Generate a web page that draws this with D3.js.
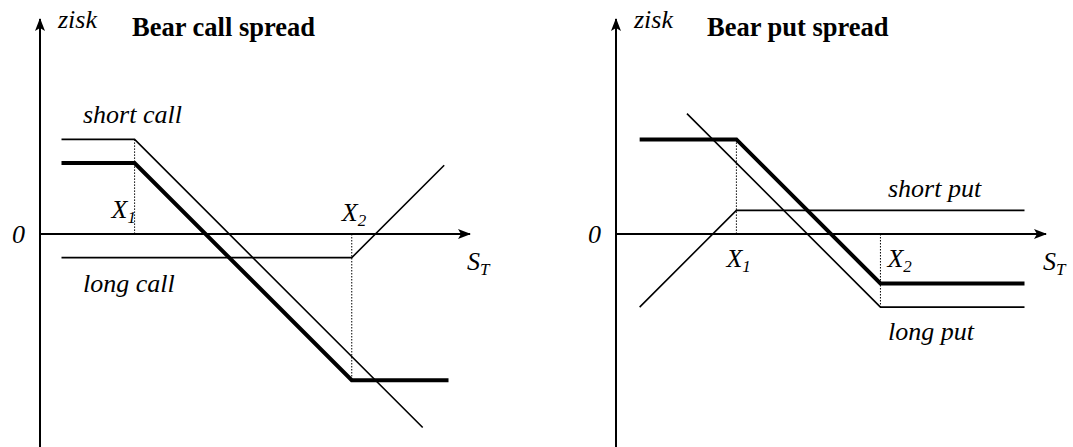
<!DOCTYPE html>
<html>
<head>
<meta charset="utf-8">
<script src="https://cdn.jsdelivr.net/npm/d3@7"></script>
<style>
    body { margin: 0; background: #fff; }
</style>
</head>
<body>
<svg id="chart" width="1073" height="447"></svg>
<script>
// payoff diagrams, price on x (0..100), profit on y (-50..50)

// Bear call spread
var callStrikes = [22, 72.5];
var shortCall = [[5, 22], [22, 22], [89, -45]];
var longCall = [[5, -5.5], [72.5, -5.5], [94, 16]];
var callSpread = [[5, 16.5], [22, 16.5], [72.5, -34], [95, -34]];
var callGuides = [[22, 22, 0], [72.5, 0, -34]];

// Bear put spread
var putStrikes = [28, 61.5];
var shortPut = [[5.5, -17], [28, 5.5], [95, 5.5]];
var longPut = [[16.5, 28], [61.5, -17], [95, -17]];
var putSpread = [[5.5, 22], [28, 22], [61.5, -11.5], [95, -11.5]];
var putGuides = [[28, 22, 0], [61.5, 0, -17]];

var serif = "'Liberation Serif', 'Times New Roman', Times, 'DejaVu Serif', serif";

var svg = d3.select("#chart")
        .attr("font-family", serif)
        .style("font-family", serif);

svg.append("defs").append("marker")
        .attr("id", "arrow")
        .attr("viewBox", "0 -6 13 12")
        .attr("refX", 12)
        .attr("refY", 0)
        .attr("markerUnits", "userSpaceOnUse")
        .attr("markerWidth", 13)
        .attr("markerHeight", 12)
        .attr("orient", "auto")
        .append("path")
        .attr("d", "M0,-5L13,0L0,5L3,0Z")
        .style("fill", "#000");

/**
 * draws one panel
 */
function drawPanel(opt)
{
    var x = d3.scaleLinear().domain([0, 100]).range([opt.left, opt.left + 430]);
    var y = d3.scaleLinear().domain([-50, 50]).range([449, 19]);
    var g = svg.append("g");
    var line = d3.line().x(function(d) { return x(d[0]); }).y(function(d) { return y(d[1]); });

    // axes
    g.append("line")
            .attr("x1", x(0)).attr("y1", y(-50))
            .attr("x2", x(0)).attr("y2", y(50))
            .style("stroke", "#000").style("stroke-width", "2px")
            .attr("marker-end", "url(#arrow)");
    g.append("line")
            .attr("x1", x(0)).attr("y1", y(0))
            .attr("x2", x(100)).attr("y2", y(0))
            .style("stroke", "#000").style("stroke-width", "2px")
            .attr("marker-end", "url(#arrow)");

    // dotted guides at strikes
    opt.guides.forEach(function(d) {
        g.append("line")
                .attr("x1", x(d[0])).attr("y1", y(d[1]))
                .attr("x2", x(d[0])).attr("y2", y(d[2]))
                .style("stroke", "#000").style("stroke-width", "1px")
                .style("stroke-dasharray", "1.5,1.5");
    });

    opt.legs.forEach(function(leg) {
        g.append("path")
                .attr("d", line(leg))
                .style("fill", "none").style("stroke", "#000")
                .style("stroke-width", "1.6px");
    });
    g.append("path")
            .attr("d", line(opt.spread))
            .style("fill", "none").style("stroke", "#000")
            .style("stroke-width", "4px");

    // texts
    g.append("text").attr("x", x(0) + 18).attr("y", 28)
            .style("font-size", "26px").style("font-style", "italic").text("zisk");
    g.append("text").attr("x", opt.titleX).attr("y", 36)
            .style("font-size", "26.5px").style("font-weight", "bold").text(opt.title);
    g.append("text").attr("x", x(0) - 28).attr("y", y(0) + 9)
            .style("font-size", "26px").style("font-style", "italic").text("0");

    var st = g.append("text").attr("x", x(100) - 3).attr("y", y(0) + 36)
            .style("font-size", "26px").style("font-style", "italic");
    st.append("tspan").text("S");
    st.append("tspan").attr("dy", 5).style("font-size", "17px").text("T");

    opt.strikeLabels.forEach(function(d, i) {
        var t = g.append("text")
                .attr("x", x(opt.strikes[i]) + d[0]).attr("y", y(0) + d[1])
                .style("font-size", "26px").style("font-style", "italic");
        t.append("tspan").text("X");
        t.append("tspan").attr("dy", 5).style("font-size", "17px").text(i + 1);
    });

    opt.labels.forEach(function(d) {
        g.append("text").attr("x", d[0]).attr("y", d[1])
                .style("font-size", "26px").style("font-style", "italic").text(d[2]);
    });
}

drawPanel({
    left: 40,
    title: "Bear call spread",
    titleX: 132,
    strikes: callStrikes,
    strikeLabels: [[-23, -16], [-10, -13]],
    guides: callGuides,
    legs: [shortCall, longCall],
    spread: callSpread,
    labels: [[83, 123, "short call"], [83, 292, "long call"]]
});

drawPanel({
    left: 616,
    title: "Bear put spread",
    titleX: 707,
    strikes: putStrikes,
    strikeLabels: [[-10, 33], [7, 33]],
    guides: putGuides,
    legs: [shortPut, longPut],
    spread: putSpread,
    labels: [[888, 197, "short put"], [888, 340, "long put"]]
});
</script>
</body>
</html>
